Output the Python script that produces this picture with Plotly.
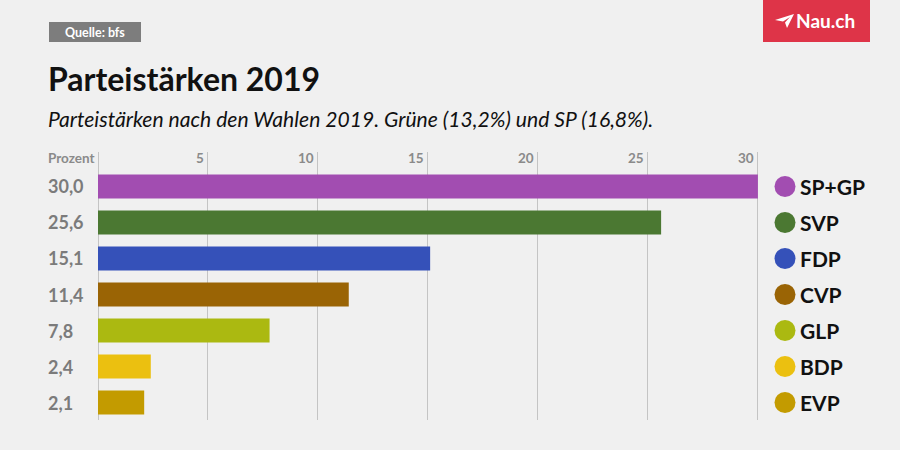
import plotly.graph_objects as go

parties = ["SP+GP", "SVP", "FDP", "CVP", "GLP", "BDP", "EVP"]
values = [30.0, 25.6, 15.1, 11.4, 7.8, 2.4, 2.1]
colors = ["#a24db1", "#4b7832", "#3551b9", "#9a6405", "#abb911", "#ebc010", "#c39b00"]
tick_vals = [5, 10, 15, 20, 25, 30]

W, H = 900, 450
def px(x): return x / W
def py(y): return 1 - y / H

idx = list(range(len(parties)))
fig = go.Figure()
fig.add_trace(go.Bar(
    x=values, y=idx, orientation="h", marker=dict(color=colors, line=dict(width=0)),
    width=0.67, showlegend=False, hoverinfo="skip"))
fig.add_trace(go.Scatter(
    x=[15] * len(parties), y=idx, mode="markers", xaxis="x2", yaxis="y",
    marker=dict(size=21, color=colors, symbol="circle"), showlegend=False, hoverinfo="skip"))

ann = []
for i, v in enumerate(values):
    ann.append(dict(x=px(49), y=i, xref="paper", yref="y", xanchor="left", yanchor="middle", xshift=-3,
                    text=f"{v:.1f}".replace(".", ","), showarrow=False,
                    font=dict(family="Lato", size=18, color="#7b7b7b", weight="bold")))
for i, p in enumerate(parties):
    ann.append(dict(x=15, y=i, xref="x2", yref="y", xanchor="left", yanchor="middle", xshift=13,
                    text=p, showarrow=False,
                    font=dict(family="Lato", size=21, color="#111111", weight="bold")))
for t in tick_vals:
    ann.append(dict(x=t, y=py(158), xref="x", yref="paper", xanchor="right", yanchor="middle", xshift=-2,
                    text=str(t), showarrow=False,
                    font=dict(family="Lato", size=13.5, color="#8a8a8a", weight="bold")))
ann += [
    dict(x=px(49), y=py(158), xref="paper", yref="paper", xanchor="left", yanchor="middle", xshift=-3,
         text="Prozent", showarrow=False, font=dict(family="Lato", size=13.5, color="#8a8a8a", weight="bold")),
    dict(x=px(49), y=py(78), xref="paper", yref="paper", xanchor="left", yanchor="middle", xshift=-3,
         text="Parteistärken 2019", showarrow=False, font=dict(family="Lato", size=32, color="#111111", weight="bold")),
    dict(x=px(49), y=py(118), xref="paper", yref="paper", xanchor="left", yanchor="middle", xshift=-3,
         text="<i>Parteistärken nach den Wahlen 2019. Grüne (13,2%) und SP (16,8%).</i>", showarrow=False,
         font=dict(family="Lato", size=21.1, color="#111111")),
    dict(x=px(95), y=py(32), xref="paper", yref="paper", xanchor="center", yanchor="middle",
         text="Quelle: bfs", showarrow=False, font=dict(family="Lato", size=12.5, color="#ffffff", weight="bold")),
    dict(x=px(797), y=py(21), xref="paper", yref="paper", xanchor="left", yanchor="middle", xshift=-3,
         text="Nau.ch", showarrow=False, font=dict(family="Lato", size=19, color="#ffffff", weight="bold")),
]

def P(x, y): return f"{px(x)},{py(y)}"
shapes = [
    dict(type="rect", xref="paper", yref="paper", x0=px(49), x1=px(141), y0=py(42), y1=py(22),
         fillcolor="#7d7d7d", line=dict(width=0), layer="below"),
    dict(type="rect", xref="paper", yref="paper", x0=px(763), x1=px(870), y0=py(42), y1=py(0),
         fillcolor="#de3448", line=dict(width=0), layer="below"),
    dict(type="path", xref="paper", yref="paper",
         path=f"M {P(775,20)} L {P(794,14)} L {P(787,28)} L {P(785,22.5)} L {P(790,17)} L {P(783,21.5)} Z",
         fillcolor="#ffffff", line=dict(width=0)),
]

fig.update_layout(
    width=W, height=H, margin=dict(l=0, r=0, t=0, b=0),
    paper_bgcolor="#f0f0f0", plot_bgcolor="#f0f0f0",
    xaxis=dict(domain=[px(98), px(759)], range=[0, 30.05], side="top",
               tickvals=tick_vals, showticklabels=False, ticks="", showgrid=True,
               gridcolor="#c4c4c4", gridwidth=1, zeroline=True, zerolinecolor="#c4c4c4",
               zerolinewidth=1, showline=False, fixedrange=True),
    xaxis2=dict(domain=[px(770), 1], range=[0, 130], visible=False, anchor="y"),
    yaxis=dict(domain=[py(420), py(152)], range=[6.486, -0.958], visible=False, fixedrange=True),
    annotations=ann, shapes=shapes, bargap=0.3,
)
fig.write_html("out.html", config={"displayModeBar": False, "staticPlot": True},
               post_script="document.body.style.margin='0';document.body.style.background='#f0f0f0';")
